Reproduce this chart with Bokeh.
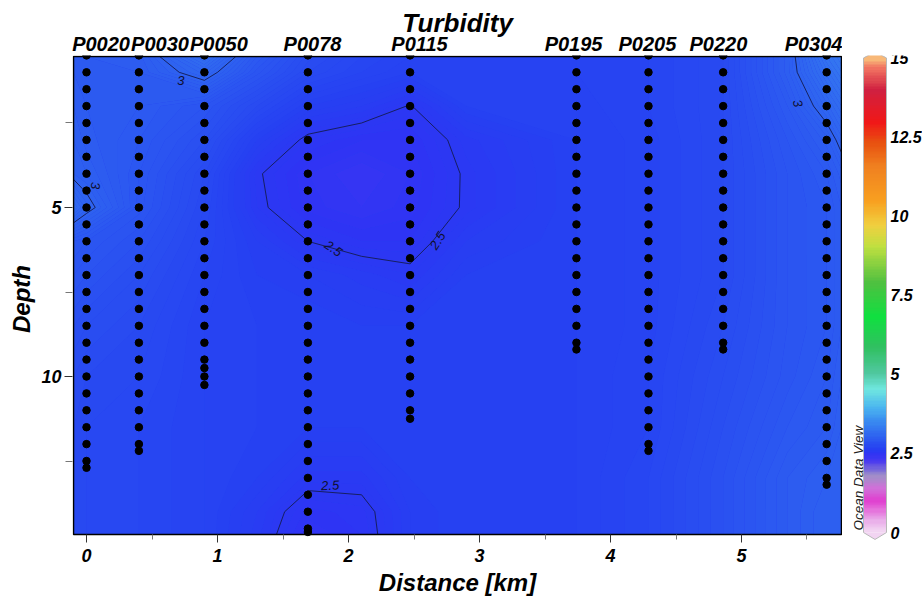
import numpy as np
from bokeh.plotting import figure
from bokeh.models import Range1d, FixedTicker, LinearAxis, ColumnDataSource, LinearColorMapper
from bokeh.layouts import row
from bokeh.embed import file_html
from bokeh.resources import INLINE
from bokeh.core.properties import value

# ---------------- data ----------------
station_names = ["P0020", "P0030", "P0050", "P0078", "P0115", "P0195", "P0205", "P0220", "P0304"]
station_km = [0.0, 0.40, 0.90, 1.69, 2.47, 3.74, 4.29, 4.86, 5.65]
standard_depths = [0.5, 1.0, 1.5, 2.0, 2.5, 3.0, 3.5, 4.0, 4.5, 5.0, 5.5, 6.0, 6.5, 7.0, 7.5,
                   8.0, 8.5, 9.0, 9.5, 10.0, 10.5, 11.0, 11.5, 12.0, 12.5, 13.0, 13.5, 14.0, 14.5]
station_last_std_depth = [12.5, 12.0, 10.0, 14.5, 11.0, 9.0, 12.0, 9.0, 13.0]
station_extra_depths = [[12.7], [12.2], [9.75, 10.25], [14.6], [11.25], [9.2], [12.2], [9.2], [13.2]]

# gridded turbidity section; edges = section bounds
grid_km = [-0.0992, 0.0, 0.4, 0.9, 1.3, 1.69, 2.1, 2.47, 2.9, 3.74, 4.29, 4.86, 5.35, 5.65, 5.7634]
grid_depth = [0.533, 1.0, 2.0, 3.0, 4.0, 5.0, 6.0, 7.0, 8.5, 10.0, 11.5, 13.0, 14.0, 14.675]
turbidity = [
    [2.92, 2.92, 2.93, 3.15, 2.90, 2.75, 2.68, 2.64, 2.64, 2.64, 2.66, 2.72, 2.95, 3.20, 3.26],
    [2.92, 2.92, 2.92, 3.05, 2.85, 2.72, 2.66, 2.62, 2.63, 2.64, 2.66, 2.72, 2.95, 3.15, 3.22],
    [2.94, 2.92, 2.90, 2.84, 2.72, 2.60, 2.56, 2.495, 2.62, 2.63, 2.66, 2.72, 2.90, 3.05, 3.12],
    [2.96, 2.93, 2.88, 2.78, 2.60, 2.48, 2.44, 2.44, 2.53, 2.62, 2.65, 2.72, 2.86, 2.95, 3.03],
    [2.98, 2.96, 2.86, 2.72, 2.51, 2.42, 2.38, 2.42, 2.51, 2.62, 2.65, 2.72, 2.84, 2.90, 2.95],
    [3.10, 3.03, 2.85, 2.70, 2.52, 2.43, 2.40, 2.43, 2.51, 2.62, 2.65, 2.72, 2.84, 2.88, 2.92],
    [2.88, 2.86, 2.80, 2.68, 2.58, 2.50, 2.46, 2.46, 2.56, 2.62, 2.65, 2.72, 2.84, 2.88, 2.92],
    [2.84, 2.82, 2.76, 2.66, 2.60, 2.58, 2.55, 2.52, 2.60, 2.62, 2.65, 2.72, 2.84, 2.88, 2.92],
    [2.78, 2.76, 2.72, 2.64, 2.62, 2.62, 2.60, 2.60, 2.62, 2.62, 2.65, 2.74, 2.84, 2.88, 2.92],
    [2.74, 2.72, 2.70, 2.64, 2.62, 2.62, 2.62, 2.62, 2.62, 2.62, 2.66, 2.76, 2.85, 2.90, 2.94],
    [2.72, 2.70, 2.68, 2.64, 2.62, 2.60, 2.60, 2.62, 2.62, 2.62, 2.66, 2.78, 2.88, 2.92, 2.96],
    [2.72, 2.70, 2.68, 2.64, 2.60, 2.53, 2.53, 2.60, 2.62, 2.62, 2.68, 2.80, 2.92, 2.96, 2.98],
    [2.72, 2.70, 2.68, 2.64, 2.56, 2.45, 2.47, 2.58, 2.62, 2.62, 2.68, 2.80, 2.92, 2.98, 2.98],
    [2.72, 2.70, 2.68, 2.64, 2.55, 2.42, 2.46, 2.58, 2.62, 2.62, 2.68, 2.80, 2.92, 2.98, 2.98],
]
contour_line_levels = [2.5, 3.0]

# contour labels
clabel_text = ["3", "3", "3", "2.5", "2.5", "2.5"]
clabel_km = [0.72, 0.07, 5.43, 1.885, 2.68, 1.86]
clabel_depth = [1.24, 4.35, 1.92, 6.21, 5.98, 13.22]
clabel_angle = [0.0, -1.5708, -1.3, -0.6, 1.0, 0.05]

# station label placement (shifted to avoid overlap, as in the original)
station_label_km = [0.111, 0.561, 1.011, 1.725, 2.542, 3.718, 4.282, 4.824, 5.58]

x_ticks = [0, 1, 2, 3, 4, 5]
x_minor = [0.5, 1.5, 2.5, 3.5, 4.5, 5.5]
y_ticks = [5, 10]
y_minor = [2.5, 7.5, 12.5]

cbar_ticks = [0, 2.5, 5, 7.5, 10, 12.5, 15]
cbar_labels = ["0", "2.5", "5", "7.5", "10", "12.5", "15"]

# ODV-like colour map
cmap_values = [0.0, 0.3, 0.95, 1.35, 1.75, 2.2, 2.45, 2.6, 3.0, 3.5, 3.9, 4.5, 5.0, 5.85,
               6.8, 7.9, 9.05, 9.7, 10.5, 11.6, 12.35, 13.0, 14.0, 14.7, 15.0]
cmap_colors = ["#f2d4f2", "#eab0ea", "#e040d0", "#d070d8", "#a090c8", "#4a3af0", "#2e34f4",
               "#2640f2", "#2e62f0", "#3a8cf0", "#4ab4f0", "#70e8e0", "#50c8a0", "#30c060",
               "#10e040", "#50c040", "#c0e040", "#f0d040", "#f8a020", "#f08020", "#e85010",
               "#f01818", "#d02040", "#f07060", "#f8b878"]


def cmap(v):
    rgb = np.array([[int(c[i:i + 2], 16) for i in (1, 3, 5)] for c in cmap_colors], float)
    out = [np.interp(v, cmap_values, rgb[:, k]) for k in range(3)]
    return "#%02x%02x%02x" % tuple(int(round(o)) for o in out)


FONT = "Liberation Sans"
KM0, KM1 = grid_km[0], grid_km[-1]
D0, D1 = grid_depth[0], grid_depth[-1]

# ---------------- main section plot ----------------
p = figure(width=842, height=604, x_range=Range1d(-0.1069, 5.7710), y_range=Range1d(14.911, 0.503),
           output_backend="svg", toolbar_location=None,
           min_border_left=72, min_border_top=55, min_border_bottom=62, min_border_right=0)
p.grid.visible = False
p.background_fill_color = "white"
p.border_fill_color = "white"
p.outline_line_color = None

p.quad(left=[KM0], right=[KM1], top=[D0], bottom=[D1], fill_color=cmap(2.64), line_color=None)

Z = np.array(turbidity)
fill_levels = list(np.round(np.arange(2.30, 3.3001, 0.02), 3))
fill_cols = [cmap((a + b) / 2) for a, b in zip(fill_levels[:-1], fill_levels[1:])]
p.contour(grid_km, grid_depth, Z, levels=fill_levels, fill_color=fill_cols, line_color=None)
p.contour(grid_km, grid_depth, Z, levels=contour_line_levels, fill_color=None,
          line_color="#141a48", line_width=1, line_alpha=0.85)

src_lab = ColumnDataSource(dict(x=clabel_km, y=clabel_depth, t=clabel_text, a=clabel_angle))
p.text(x="x", y="y", text="t", angle="a", source=src_lab, text_align="center",
       text_baseline="middle", text_font=value(FONT), text_font_style="italic",
       text_font_size="13px", text_color="#101030")

dot_x, dot_y = [], []
for km, last, extra in zip(station_km, station_last_std_depth, station_extra_depths):
    for d in standard_depths:
        if d <= last:
            dot_x.append(km)
            dot_y.append(d)
    for d in extra:
        dot_x.append(km)
        dot_y.append(d)
p.scatter(dot_x, dot_y, size=7.5, color="black")

# section outline
p.quad(left=[KM0], right=[KM1], top=[D0], bottom=[D1], fill_color=None,
       line_color="black", line_width=1.5)

# bottom axis
xb = p.below[0]
xb.ticker = FixedTicker(ticks=x_ticks, minor_ticks=x_minor)
xb.axis_label = "Distance [km]"
# left axis
yl = p.left[0]
yl.ticker = FixedTicker(ticks=y_ticks, minor_ticks=y_minor)
yl.axis_label = "Depth"
for ax in (xb, yl):
    ax.axis_label_text_font = FONT
    ax.axis_label_text_font_style = "bold italic"
    ax.axis_label_text_font_size = "24px"
    ax.axis_label_text_color = "black"
    ax.major_label_text_font = FONT
    ax.major_label_text_font_style = "bold italic"
    ax.major_label_text_font_size = "18px"
    ax.major_label_text_color = "black"
    ax.axis_line_color = None
    ax.major_tick_line_color = "#333333"
    ax.minor_tick_line_color = "#777777"
xb.major_tick_in = 8
xb.major_tick_out = 0
xb.minor_tick_in = 8
xb.minor_tick_out = -3
xb.major_label_standoff = 6
xb.axis_label_standoff = 4
yl.major_tick_in = 0
yl.major_tick_out = 8
yl.minor_tick_in = 0
yl.minor_tick_out = 7
yl.major_label_standoff = 3
yl.axis_label_standoff = 3

top = LinearAxis(ticker=FixedTicker(ticks=station_label_km),
                 major_label_overrides={k: n for k, n in zip(station_label_km, station_names)})
top.axis_line_color = None
top.major_tick_line_color = None
top.minor_tick_line_color = None
top.major_tick_in = 0
top.major_tick_out = 0
top.minor_tick_in = 0
top.minor_tick_out = 0
top.major_label_standoff = 1
top.major_label_text_font = FONT
top.major_label_text_font_style = "bold italic"
top.major_label_text_font_size = "20px"
top.major_label_text_color = "black"
top.axis_label = "Turbidity"
top.axis_label_standoff = -8
top.axis_label_text_font = FONT
top.axis_label_text_font_style = "bold italic"
top.axis_label_text_font_size = "26px"
top.axis_label_text_color = "black"
p.add_layout(top, "above")

# ---------------- colour bar ----------------
cb = figure(width=80, height=604, x_range=Range1d(-0.913, 2.565), y_range=Range1d(-0.316, 15.079),
            output_backend="svg", toolbar_location=None, min_border_left=0, min_border_right=0,
            min_border_top=55, min_border_bottom=62, x_axis_type=None, y_axis_type=None)
cb.grid.visible = False
cb.outline_line_color = None
cb.background_fill_color = "white"
pal = [cmap(v) for v in np.linspace(0, 15, 256)]
mapper = LinearColorMapper(palette=pal, low=0, high=15)
cb.image(image=[np.linspace(0, 15, 301).reshape(-1, 1)], x=0, y=0, dw=1, dh=15, color_mapper=mapper)
cb.patch([0, 0.5, 1], [15, 15.2, 15], fill_color=cmap(15), line_color=None)
cb.patch([0, 0.5, 1], [0, -0.22, 0], fill_color=cmap(0), line_color=None)
cb.line([0, 0, 0.5, 1, 1, 0.5, 0], [0, 15, 15.2, 15, 0, -0.22, 0], line_color="#b8b8b8", line_width=1)
cb.text(x=[1.174] * len(cbar_ticks), y=cbar_ticks, text=cbar_labels, text_align="left",
        text_baseline="middle", text_font=value(FONT), text_font_style="bold italic",
        text_font_size="16px", text_color="black")
cb.text(x=[-0.217], y=[0.06], text=["Ocean Data View"], angle=1.5708, text_align="left",
        text_baseline="alphabetic", text_font=value(FONT), text_font_style="italic",
        text_font_size="13.5px", text_color="#202020")

layout = row(p, cb)
open("out.html", "w").write(file_html(layout, INLINE))
